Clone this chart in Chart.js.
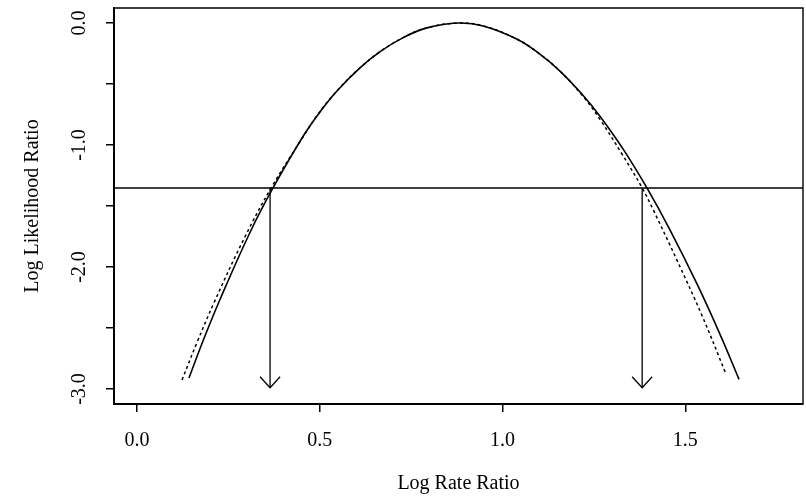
<!DOCTYPE html>
<html>
<head>
<meta charset="utf-8">
<script src="https://cdn.jsdelivr.net/npm/chart.js@4.4.0/dist/chart.umd.min.js"></script>
<style>
  html, body { margin: 0; padding: 0; background: #fff; }
  #wrap { width: 806px; height: 499px; }
</style>
</head>
<body>
<div id="wrap"><canvas id="chart" width="806" height="499"></canvas></div>
<script>
// values
const xRange = [-0.063, 1.822];
const yRange = [-3.123, 0.123];
const xTicks = [0.0, 0.5, 1.0, 1.5];
const yTicks = [0.0, -0.5, -1.0, -1.5, -2.0, -2.5, -3.0];
const yTickLabels = ['0.0', '', '-1.0', '', '-2.0', '', '-3.0'];

// exact log likelihood (solid)
const solidX = [0.142, 0.181, 0.227, 0.309, 0.372, 0.454, 0.501, 0.547, 0.610, 0.665, 0.728, 0.793, 0.878, 0.947, 1.040, 1.103, 1.157, 1.220, 1.267, 1.330, 1.395, 1.458, 1.532, 1.595, 1.647];
const solidY = [-2.910, -2.602, -2.266, -1.717, -1.352, -0.930, -0.727, -0.557, -0.368, -0.235, -0.120, -0.040, 0.0, -0.024, -0.133, -0.257, -0.394, -0.592, -0.766, -1.034, -1.352, -1.695, -2.139, -2.552, -2.921];

// quadratic approximation (dashed)
const dashX = [0.123, 0.164, 0.211, 0.295, 0.367, 0.448, 0.496, 0.543, 0.607, 0.665, 0.728, 0.793, 0.878, 0.947, 1.040, 1.103, 1.157, 1.220, 1.267, 1.327, 1.382, 1.412, 1.475, 1.546, 1.609];
const dashY = [-2.927, -2.619, -2.290, -1.754, -1.352, -0.963, -0.745, -0.570, -0.375, -0.235, -0.120, -0.040, 0.0, -0.024, -0.133, -0.257, -0.394, -0.600, -0.792, -1.075, -1.352, -1.530, -1.930, -2.400, -2.860];

const cutoff = -1.352;
const arrowX = [0.364, 1.382];
const arrowEnd = -2.99;

const xTitle = 'Log Rate Ratio';
const yTitle = 'Log Likelihood Ratio';

const FONT = '"Liberation Serif", "Times New Roman", serif';

function toXY(xs, ys) {
    return xs.map((x, i) => ({ x, y: ys[i] }));
}

function arrowData(x) {
    return [{ x, y: cutoff }, { x, y: arrowEnd }];
}

// frame, rotated y labels, x labels, titles, arrow heads
const decorations = {
    id: 'decorations',
    afterDraw(chart) {
        const { ctx, chartArea, scales } = chart;
        const xs = scales.x, ys = scales.y;
        ctx.save();

        // box: left/bottom come from axis borders, top/right here
        ctx.strokeStyle = '#000';
        ctx.lineWidth = 1.4;
        ctx.beginPath();
        ctx.moveTo(chartArea.left, chartArea.top);
        ctx.lineTo(chartArea.right, chartArea.top);
        ctx.lineTo(chartArea.right, chartArea.bottom);
        ctx.stroke();

        // arrow heads
        ctx.lineWidth = 1.3;
        arrowX.forEach(x => {
            const px = xs.getPixelForValue(x);
            const py = ys.getPixelForValue(arrowEnd);
            ctx.beginPath();
            ctx.moveTo(px - 10, py - 11);
            ctx.lineTo(px, py);
            ctx.lineTo(px + 10, py - 11);
            ctx.stroke();
        });

        ctx.fillStyle = '#000';
        ctx.font = '20px ' + FONT;
        ctx.textAlign = 'center';
        ctx.textBaseline = 'middle';

        // x tick labels
        xs.ticks.forEach(t => {
            ctx.fillText(t.value.toFixed(1), xs.getPixelForValue(t.value), 441);
        });
        ctx.fillText(xTitle, (chartArea.left + chartArea.right) / 2, 484);

        // y tick labels, rotated like R's default
        yTicks.forEach((v, i) => {
            if (!yTickLabels[i]) return;
            ctx.save();
            ctx.translate(80, ys.getPixelForValue(v));
            ctx.rotate(-Math.PI / 2);
            ctx.fillText(yTickLabels[i], 0, 0);
            ctx.restore();
        });
        ctx.save();
        ctx.translate(33, (chartArea.top + chartArea.bottom) / 2);
        ctx.rotate(-Math.PI / 2);
        ctx.fillText(yTitle, 0, 0);
        ctx.restore();

        ctx.restore();
    }
};

const lineStyle = {
    type: 'line',
    borderColor: '#000',
    backgroundColor: '#000',
    pointRadius: 0,
    fill: false,
};

new Chart(document.getElementById('chart'), {
    data: {
        datasets: [
            { ...lineStyle, label: 'exact', data: toXY(solidX, solidY), borderWidth: 1.6, tension: 0.4 },
            { ...lineStyle, label: 'quadratic', data: toXY(dashX, dashY), borderWidth: 1.5, borderDash: [3, 3], tension: 0.4 },
            { ...lineStyle, label: 'cutoff', data: [{ x: xRange[0], y: cutoff }, { x: xRange[1], y: cutoff }], borderWidth: 1.5 },
            { ...lineStyle, label: 'lower', data: arrowData(arrowX[0]), borderWidth: 1.3 },
            { ...lineStyle, label: 'upper', data: arrowData(arrowX[1]), borderWidth: 1.3 },
        ],
    },
    options: {
        responsive: false,
        animation: false,
        events: [],
        layout: { padding: { left: 0, top: 8, right: 3, bottom: 0 } },
        plugins: {
            legend: { display: false },
            tooltip: { enabled: false },
        },
        scales: {
            x: {
                type: 'linear',
                min: xRange[0],
                max: xRange[1],
                afterFit: s => { s.height = 95; },
                afterBuildTicks: s => { s.ticks = xTicks.map(value => ({ value })); },
                ticks: { display: false },
                grid: { drawOnChartArea: false, drawTicks: true, tickLength: 8, color: '#000', lineWidth: 1.5 },
                border: { display: true, color: '#000', width: 2 },
            },
            y: {
                type: 'linear',
                min: yRange[0],
                max: yRange[1],
                afterFit: s => { s.width = 114; },
                afterBuildTicks: s => { s.ticks = yTicks.map(value => ({ value })); },
                ticks: { display: false },
                grid: { drawOnChartArea: false, drawTicks: true, tickLength: 8, color: '#000', lineWidth: 1.5 },
                border: { display: true, color: '#000', width: 2 },
            },
        },
    },
    plugins: [decorations],
});
</script>
</body>
</html>
